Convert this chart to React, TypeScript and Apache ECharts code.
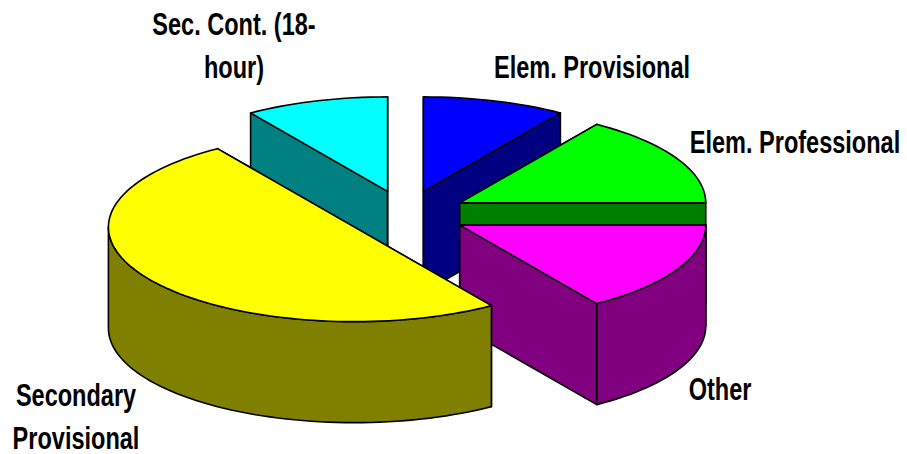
import React, { useEffect, useRef } from "react";
import * as echarts from "echarts";

// Clockwise from 12 o'clock
const categories = ["Elem. Provisional", "Elem. Professional", "Other", "Secondary Provisional", "Sec. Cont. (18-hour)"];
const shares = [9.4, 15.6, 15.6, 50, 9.4];
const topColors = ["#0000FF", "#00FF00", "#FF00FF", "#FFFF00", "#00FFFF"];
const sideColors = ["#000080", "#008000", "#800080", "#808000", "#008080"];
const labelTexts = ["Elem. Provisional", "Elem. Professional", "Other", "Secondary\nProvisional", "Sec. Cont. (18-\nhour)"];
const labelCentres = [[592, 67], [795, 142], [720, 389], [76, 417], [234, 46]];
const paintOrder = [4, 0, 1, 2, 3];

const CX = 405.5, CY = 214, RX = 246, RY = 94.5, DEPTH = 101, EXPLODE = 0.25;
const FONT_SIZE = 32, SCALE_X = 0.735, LINE_HEIGHT = 43;

const total = shares.reduce((a, b) => a + b, 0);
const startAngles: number[] = [];
shares.reduce((acc, v, i) => {
  startAngles[i] = acc;
  return acc - (v / total) * Math.PI * 2;
}, Math.PI / 2);

function arcPoints(cx: number, cy: number, a0: number, a1: number): number[][] {
  const n = Math.max(2, Math.ceil((Math.abs(a1 - a0) / Math.PI) * 90));
  const pts: number[][] = [];
  for (let k = 0; k <= n; k++) {
    const t = a0 + ((a1 - a0) * k) / n;
    pts.push([cx + RX * Math.cos(t), cy - RY * Math.sin(t)]);
  }
  return pts;
}

function renderSlice(_: any, api: any) {
  const i = api.value(0) as number;
  const a0 = startAngles[i];
  const a1 = a0 - (shares[i] / total) * Math.PI * 2;
  const mid = (a0 + a1) / 2;
  const cx = CX + EXPLODE * RX * Math.cos(mid);
  const cy = CY - EXPLODE * RY * Math.sin(mid);
  const arc = arcPoints(cx, cy, a0, a1);
  const first = arc[0];
  const last = arc[arc.length - 1];
  const down = (p: number[]) => [p[0], p[1] + DEPTH];
  const line = { stroke: "#000", lineWidth: 1.6, lineJoin: "round" };
  const side = { ...line, fill: sideColors[i] };
  const children: any[] = [
    { type: "polygon", shape: { points: [[cx, cy], first, down(first), [cx, cy + DEPTH]] }, style: side },
    { type: "polygon", shape: { points: [[cx, cy], last, down(last), [cx, cy + DEPTH]] }, style: side },
  ];
  // Only the part of the rim on the near half of the ellipse is visible.
  const frontStart = Math.min(a0, 0);
  const frontEnd = Math.max(a1, -Math.PI);
  if (frontStart > frontEnd) {
    const rim = arcPoints(cx, cy, frontStart, frontEnd);
    children.push({
      type: "polygon",
      shape: { points: [...rim, ...rim.slice().reverse().map(down)] },
      style: side,
    });
  }
  children.push({ type: "polygon", shape: { points: [[cx, cy], ...arc] }, style: { ...line, fill: topColors[i] } });
  return { type: "group", children };
}

export default function App() {
  const ref = useRef<HTMLDivElement>(null);
  useEffect(() => {
    const chart = echarts.init(ref.current!, undefined, { renderer: "svg" });
    chart.setOption({
      animation: false,
      backgroundColor: "#fff",
      series: [
        {
          type: "custom",
          coordinateSystem: "none",
          silent: true,
          renderItem: renderSlice,
          data: paintOrder.map((i) => ({ name: categories[i], value: [i, shares[i]] })),
        },
      ],
      graphic: labelTexts.map((text, i) => ({
        type: "text",
        x: labelCentres[i][0],
        y: labelCentres[i][1],
        scaleX: SCALE_X,
        z: 10,
        style: {
          text,
          fill: "#000",
          font: `bold ${FONT_SIZE}px "Liberation Sans", Arial, sans-serif`,
          lineHeight: LINE_HEIGHT,
          align: "center",
          verticalAlign: "middle",
        },
      })),
    });
    return () => chart.dispose();
  }, []);
  return <div ref={ref} style={{ position: "absolute", left: 0, top: 0, width: 907, height: 454 }} />;
}
